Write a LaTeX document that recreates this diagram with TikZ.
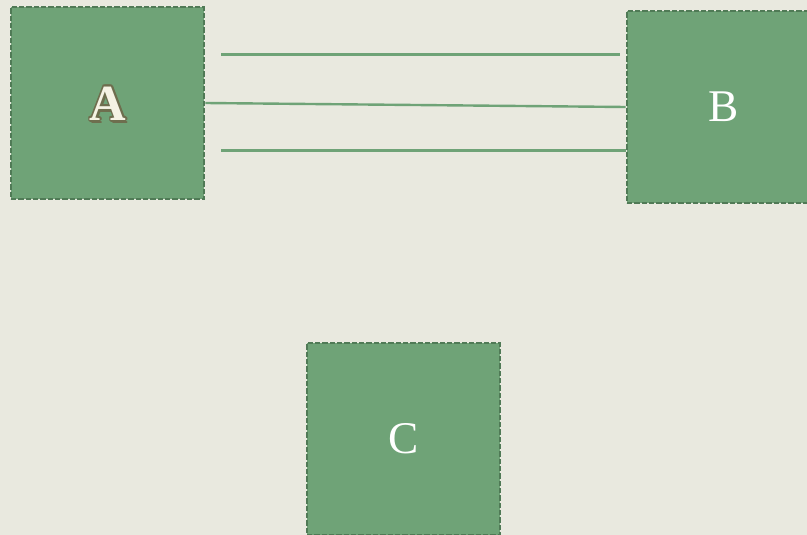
\documentclass[tikz,border=0pt]{standalone}
\usepackage{fontspec}
\setmainfont{Liberation Serif}
\usepackage{contour}
\usetikzlibrary{calc}
\definecolor{bgcream}{RGB}{233,233,223}
\definecolor{boxgreen}{RGB}{111,163,119}
\definecolor{edgegreen}{RGB}{80,122,86}
\definecolor{olivedark}{RGB}{110,110,78}
\definecolor{letterlight}{RGB}{245,243,228}
\contourlength{1.3pt}
\contournumber{10}

\tikzset{every picture/.style={line width=0.75pt}}
\tikzset{
  block/.style={draw=edgegreen, fill=boxgreen, line width=2pt, dash pattern={on 4pt off 1.5pt},
    minimum width=144.75pt, minimum height=144pt, inner sep=0pt, text=white, font=\fontsize{34}{40}\selectfont},
  link/.style={draw=boxgreen, line width=1.8pt}
}

\begin{document}
\begin{tikzpicture}[x=0.75pt,y=0.75pt,yscale=-1,xscale=1]
\path [fill=bgcream] (0,0) rectangle (807,535);
\useasboundingbox (0,0) rectangle (807,535);

%Shape: Square [id:boxA]
\node [block] (blkA) at (107.5,103) {};
%Shape: Square [id:boxB]
\node [block] (blkB) at (723.5,107) {B};
%Shape: Square [id:boxC]
\node [block] (blkC) at (403.5,439) {C};

% Text Node
\node [font=\fontsize{38}{42}\selectfont\bfseries, text=olivedark] (labA) at ($(blkA.center)+(2,3.5)$) {A};
\node [font=\fontsize{38}{42}\selectfont\bfseries] (labAtop) at ($(blkA.center)+(0.5,1.5)$) {\contour{olivedark}{\textcolor{letterlight}{A}}};

%Straight Lines [id:upper]
\coordinate (upL) at (221,54.5);
\coordinate (upR) at (620,54.5);
\draw [link] (upL) -- (upR);
%Straight Lines [id:middle]
\draw [link] (blkA.east) -- (blkB.west);
%Straight Lines [id:lower]
\coordinate (loL) at (221,150.5);
\draw [link] (loL) -- (blkB.west |- loL);

\end{tikzpicture}
\end{document}
